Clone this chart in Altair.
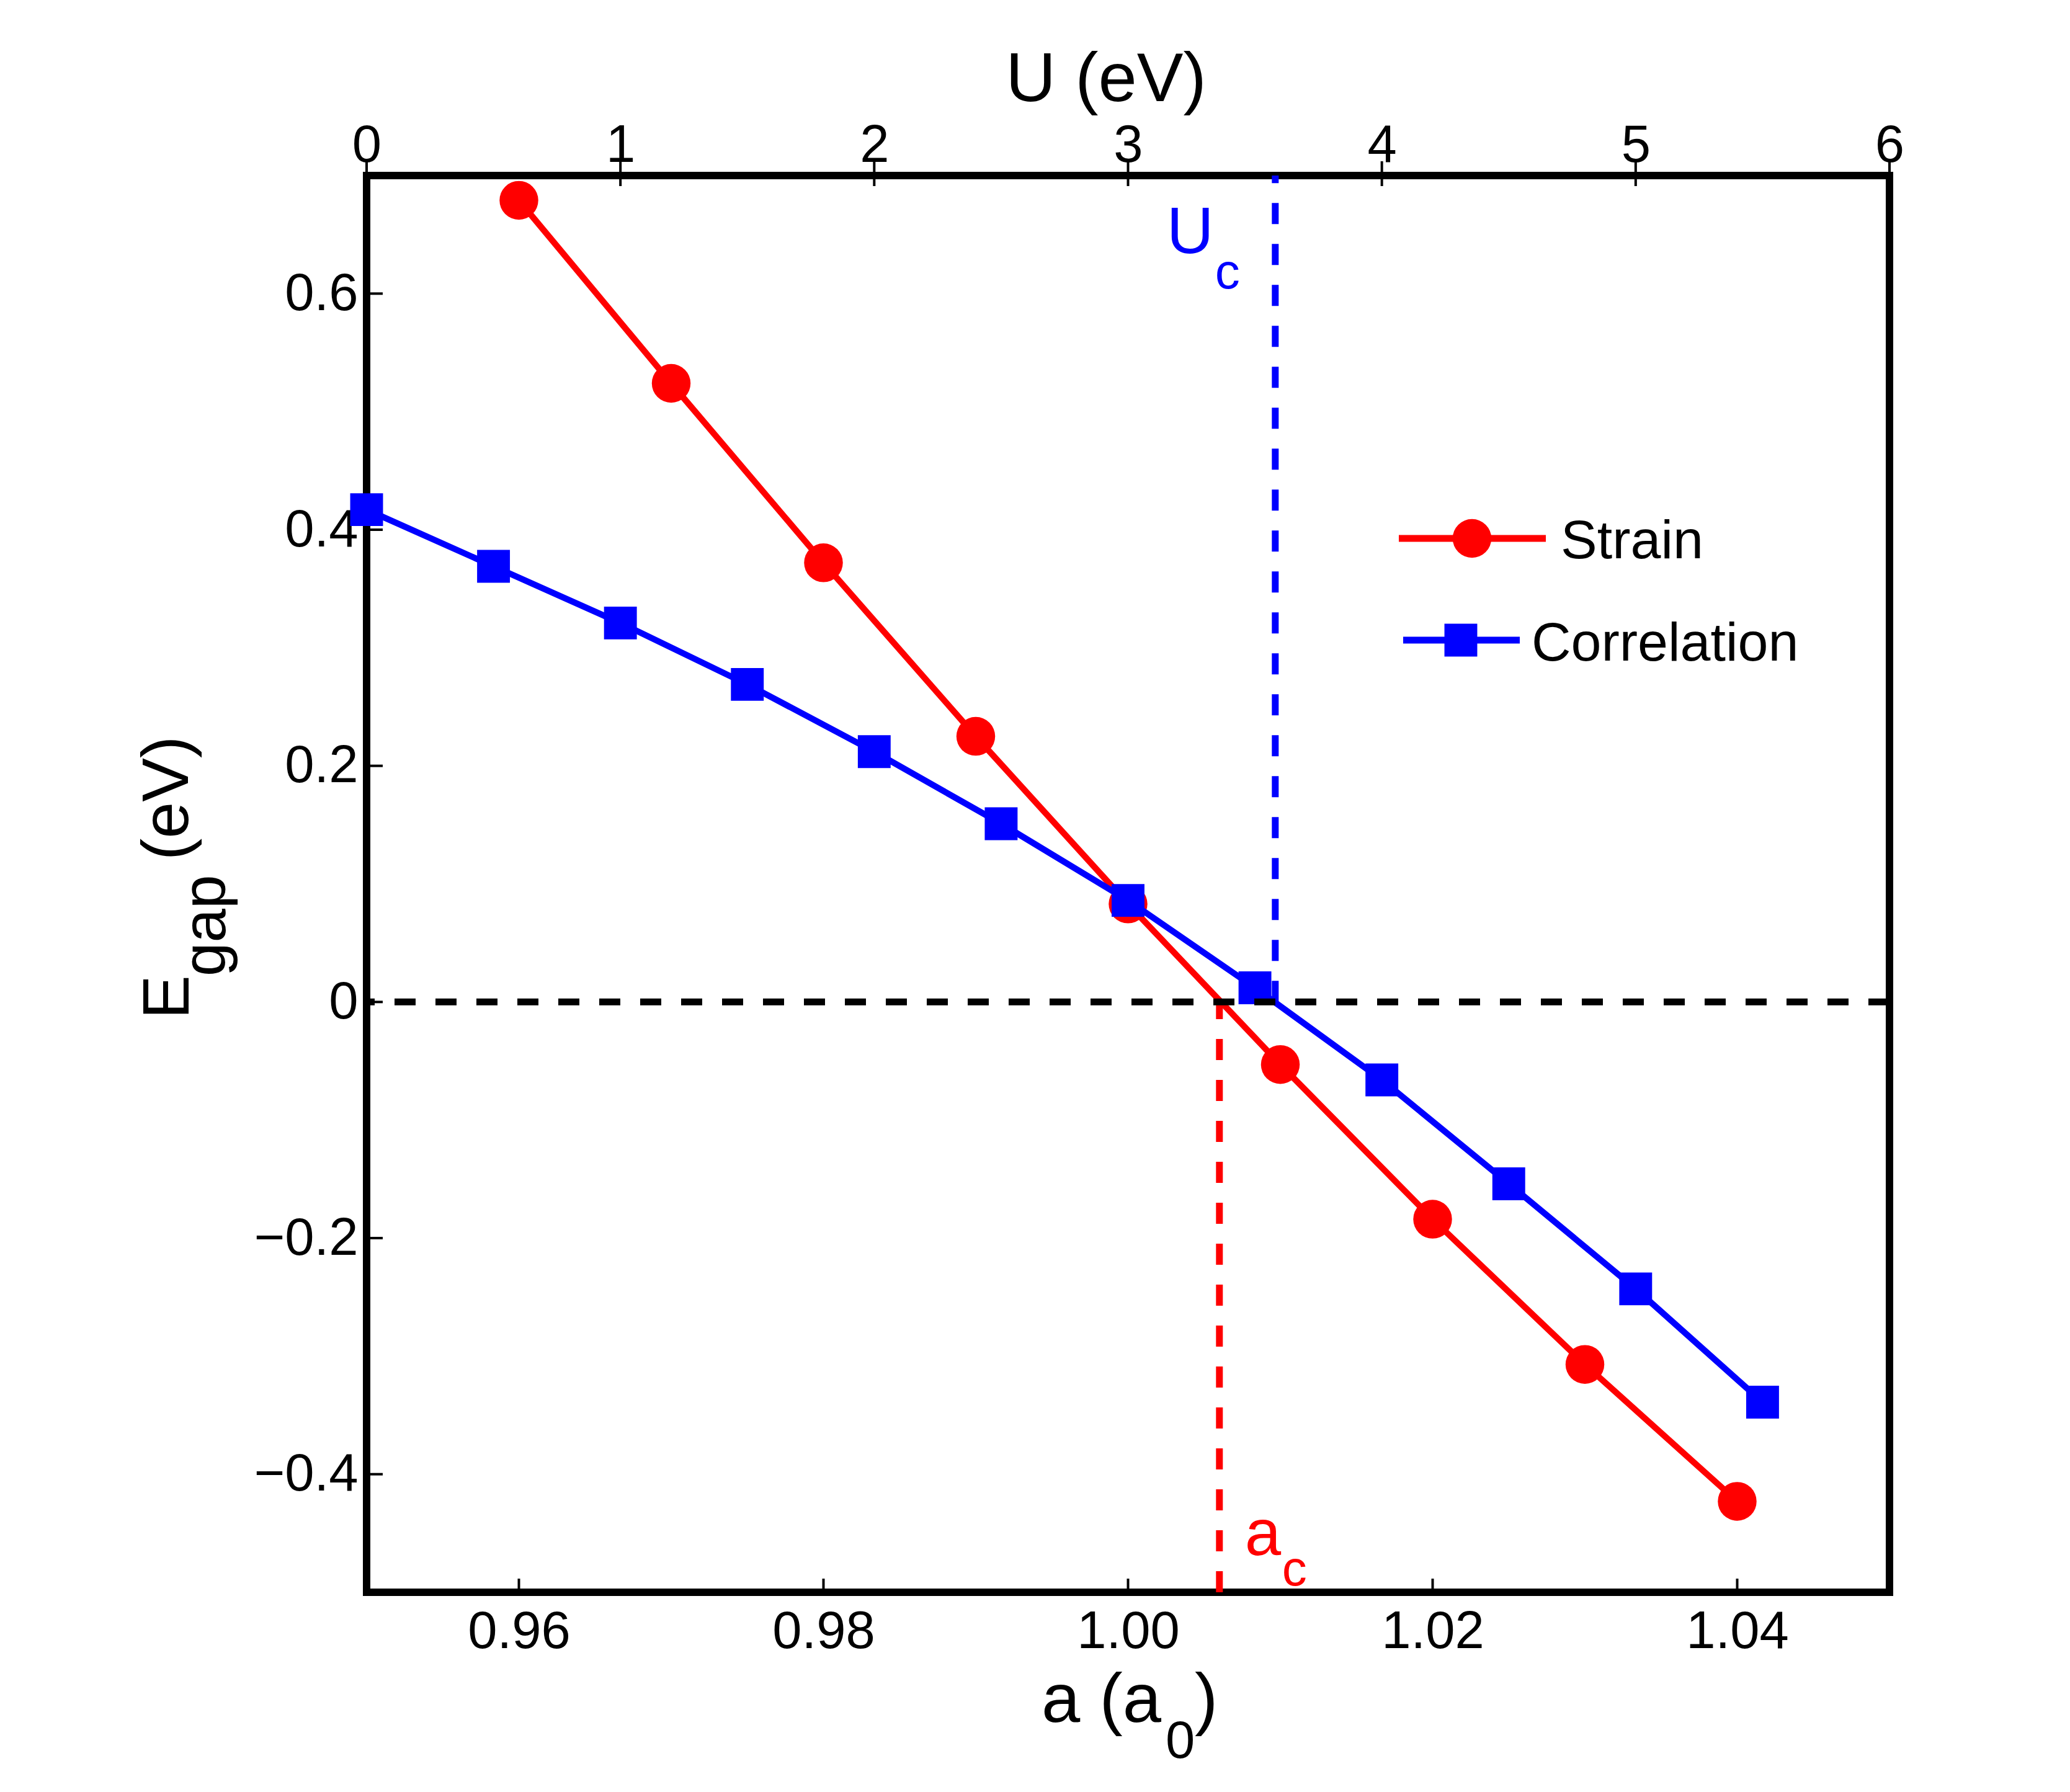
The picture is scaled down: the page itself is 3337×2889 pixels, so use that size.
import altair as alt
import pandas as pd

# ---------------- data ----------------
a_strain = [0.96, 0.97, 0.98, 0.99, 1.00, 1.01, 1.02, 1.03, 1.04]
E_strain = [0.679, 0.524, 0.372, 0.225, 0.083, -0.053, -0.184, -0.307, -0.423]

U_corr = [0.0, 0.5, 1.0, 1.5, 2.0, 2.5, 3.0, 3.5, 4.0, 4.5, 5.0, 5.5]
E_corr = [0.417, 0.369, 0.321, 0.269, 0.212, 0.151, 0.086, 0.012, -0.066, -0.154, -0.243, -0.339]

a_ticks = [0.96, 0.98, 1.00, 1.02, 1.04]
U_ticks = [0, 1, 2, 3, 4, 5, 6]
E_ticks = [-0.4, -0.2, 0.0, 0.2, 0.4, 0.6]

a_domain = [0.95, 1.05]
U_domain = [0, 6]
E_domain = [-0.5, 0.7]

a_c = 1.006
U_c = 3.58

series_names = ["Strain", "Correlation"]

# ---------------- layout ----------------
W, H = 2455, 2284
RED, BLUE = "#ff0000", "#0000ff"
FONT = "Liberation Sans"
TICK_FS = 85
CIRCLE_SIZE = 3900
SQUARE_SIZE = 2800

xa = alt.Scale(domain=a_domain, nice=False, zero=False)
xu = alt.Scale(domain=U_domain, nice=False, zero=False)
ys = alt.Scale(domain=E_domain, nice=False, zero=False)

axis_a = alt.Axis(orient="bottom", values=a_ticks, format=".2f", ticks=False, tickSize=0,
                  domain=False, grid=False, labelPadding=22, labelFontSize=TICK_FS,
                  labelFlush=False, labelOverlap=False, title=None, labelColor="black")
axis_u = alt.Axis(orient="top", values=U_ticks, format="d", ticks=False, tickSize=0,
                  domain=False, grid=False, labelPadding=5, labelFontSize=TICK_FS,
                  labelFlush=False, labelOverlap=False, title=None, labelColor="black")
axis_y = alt.Axis(orient="left", values=E_ticks, ticks=False, tickSize=0, domain=False,
                  grid=False, labelPadding=14, labelFontSize=TICK_FS, labelOverlap=False,
                  labelExpr="datum.value == 0 ? '0' : format(datum.value, '.1f')",
                  title=None, labelColor="black")

strain_df = pd.DataFrame({"a": a_strain, "E": E_strain})
corr_df = pd.DataFrame({"U": U_corr, "E": E_corr})

X_a = alt.X("a:Q", scale=xa, axis=axis_a)
X_u = alt.X("U:Q", scale=xu, axis=axis_u)
Y_e = alt.Y("E:Q", scale=ys, axis=axis_y)

# ---- layer tied to the lattice-constant axis (bottom) ----
s_base = alt.Chart(strain_df).encode(x=X_a, y=Y_e)
s_line = s_base.mark_line(color=RED, strokeWidth=10)
s_pts = s_base.mark_point(shape="circle", filled=True, size=CIRCLE_SIZE, color=RED, opacity=1, strokeWidth=0)

bottom_ticks = alt.Chart(pd.DataFrame({"a": a_ticks})).mark_rule(color="black", strokeWidth=4).encode(
    x=X_a, y=alt.value(H - 22), y2=alt.value(H))

ac_rule = alt.Chart(pd.DataFrame({"a": [a_c], "E": [E_domain[0]], "E2": [0.0]})).mark_rule(
    color=RED, strokeWidth=11, strokeDash=[34, 32]).encode(x=X_a, y=Y_e, y2="E2:Q")

ac_df = pd.DataFrame({"a": [a_c], "E": [E_domain[0]], "t": ["a"], "s": ["c"]})
ac_main = alt.Chart(ac_df).mark_text(color=RED, fontSize=105, align="left", baseline="alphabetic",
                                     dx=41, dy=-60).encode(x=X_a, y=Y_e, text="t:N")
ac_sub = alt.Chart(ac_df).mark_text(color=RED, fontSize=80, align="left", baseline="alphabetic",
                                    dx=101, dy=-11).encode(x=X_a, y=Y_e, text="s:N")

layer_a = alt.layer(s_line, s_pts, bottom_ticks, ac_rule, ac_main, ac_sub)

# ---- layer tied to the U axis (top) ----
c_base = alt.Chart(corr_df).encode(x=X_u, y=Y_e)
c_line = c_base.mark_line(color=BLUE, strokeWidth=10)
c_pts = c_base.mark_point(shape="square", filled=True, size=SQUARE_SIZE, color=BLUE, opacity=1, strokeWidth=0)

top_ticks = alt.Chart(pd.DataFrame({"U": U_ticks})).mark_rule(color="black", strokeWidth=4).encode(
    x=X_u, y=alt.value(-23), y2=alt.value(17))

uc_rule = alt.Chart(pd.DataFrame({"U": [U_c], "E": [0.0], "E2": [E_domain[1]]})).mark_rule(
    color=BLUE, strokeWidth=11, strokeDash=[34, 32]).encode(x=X_u, y=Y_e, y2="E2:Q")

uc_df = pd.DataFrame({"U": [U_c], "E": [E_domain[1]], "t": ["U"], "s": ["c"]})
uc_main = alt.Chart(uc_df).mark_text(color=BLUE, fontSize=105, align="left", baseline="alphabetic",
                                     dx=-175, dy=125).encode(x=X_u, y=Y_e, text="t:N")
uc_sub = alt.Chart(uc_df).mark_text(color=BLUE, fontSize=80, align="left", baseline="alphabetic",
                                    dx=-97, dy=182).encode(x=X_u, y=Y_e, text="s:N")

layer_u = alt.layer(c_line, c_pts, top_ticks, uc_rule, uc_main, uc_sub)

# ---- shared decorations ----
zero_line = alt.Chart(pd.DataFrame({"E": [0.0]})).mark_rule(
    color="black", strokeWidth=11, strokeDash=[34, 32]).encode(y=Y_e)

left_ticks = alt.Chart(pd.DataFrame({"E": E_ticks})).mark_rule(color="black", strokeWidth=4).encode(
    y=Y_e, x=alt.value(0), x2=alt.value(26))


def label(txt, x, y, fs, color="black", angle=0):
    return alt.Chart(pd.DataFrame({"t": [txt]})).mark_text(
        fontSize=fs, color=color, align="left", baseline="alphabetic", angle=angle
    ).encode(x=alt.value(x), y=alt.value(y), text="t:N")


titles = [
    alt.Chart(pd.DataFrame({"t": ["U (eV)"]})).mark_text(
        fontSize=112, color="black", align="center", baseline="alphabetic"
    ).encode(x=alt.value(1192), y=alt.value(-120), text="t:N"),
    label("a (a", 1088, 2493, 112),
    label("0", 1288, 2551, 85),
    label(")", 1335, 2493, 112),
    label("E", -287, 1360, 106, angle=270),
    label("gap", -228, 1291, 98, angle=270),
    label("(eV)", -288, 1104, 106, angle=270),
]

# ---- legend drawn by hand ----
leg = [
    alt.Chart(pd.DataFrame({"t": [series_names[0]]})).mark_rule(color=RED, strokeWidth=11).encode(
        x=alt.value(1664), x2=alt.value(1901), y=alt.value(585)),
    alt.Chart(pd.DataFrame({"t": [series_names[0]]})).mark_point(
        shape="circle", filled=True, size=CIRCLE_SIZE, color=RED, opacity=1, strokeWidth=0).encode(
        x=alt.value(1782), y=alt.value(585)),
    alt.Chart(pd.DataFrame({"t": [series_names[0]]})).mark_text(
        fontSize=88, align="left", baseline="alphabetic", color="black").encode(
        x=alt.value(1925), y=alt.value(617), text="t:N"),
    alt.Chart(pd.DataFrame({"t": [series_names[1]]})).mark_rule(color=BLUE, strokeWidth=11).encode(
        x=alt.value(1671), x2=alt.value(1859), y=alt.value(749)),
    alt.Chart(pd.DataFrame({"t": [series_names[1]]})).mark_point(
        shape="square", filled=True, size=SQUARE_SIZE, color=BLUE, opacity=1, strokeWidth=0).encode(
        x=alt.value(1764), y=alt.value(749)),
    alt.Chart(pd.DataFrame({"t": [series_names[1]]})).mark_text(
        fontSize=88, align="left", baseline="alphabetic", color="black").encode(
        x=alt.value(1878), y=alt.value(782), text="t:N"),
]

chart = alt.layer(layer_a, layer_u, zero_line, left_ticks, *titles, *leg).resolve_scale(
    x="independent"
).properties(
    width=W, height=H,
    autosize=alt.AutoSizeParams(type="none"),
    padding={"left": 583, "top": 275, "right": 270, "bottom": 300},
    background="white",
).configure(font=FONT).configure_view(stroke="black", strokeWidth=12).configure_text(font=FONT)

chart.save("out.html", embed_options={"renderer": "svg", "actions": False})
